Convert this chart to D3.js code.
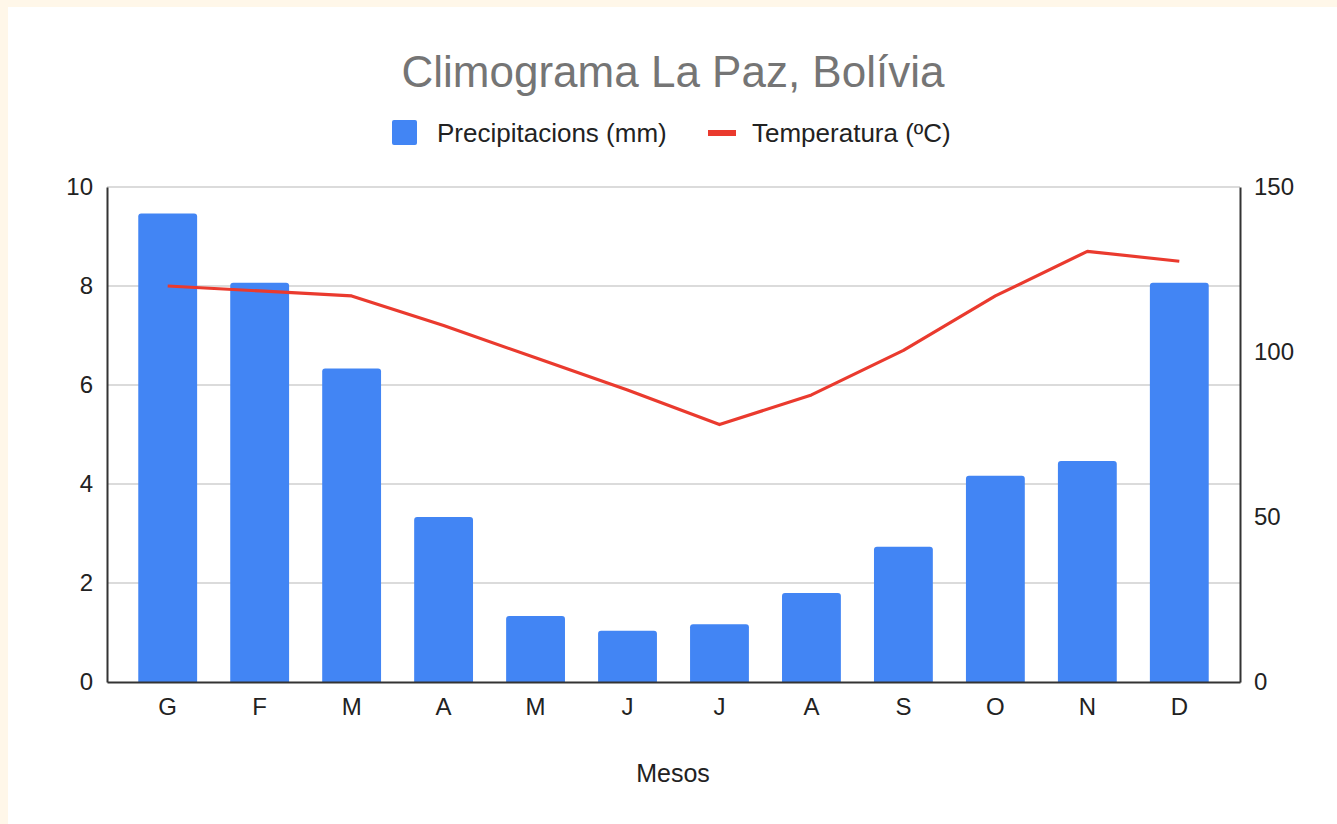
<!DOCTYPE html>
<html>
<head>
<meta charset="utf-8">
<script src="https://cdn.jsdelivr.net/npm/d3@7"></script>
<style>
  body { margin: 0; background: #fff7e9; }
  svg { display: block; }
  text { font-family: "Liberation Sans", Arial, sans-serif; }
</style>
</head>
<body>
<div id="chart"></div>
<script>
// monthly data, La Paz
var months = ["G", "F", "M", "A", "M", "J", "J", "A", "S", "O", "N", "D"];
var precipitacions = [142, 121, 95, 50, 20, 15.5, 17.5, 27, 41, 62.5, 67, 121]; // mm, right axis
var temperatura = [8.0, 7.9, 7.8, 7.2, 6.55, 5.9, 5.2, 5.8, 6.7, 7.8, 8.7, 8.5]; // ºC, left axis
var leftTicks = [0, 2, 4, 6, 8, 10];
var rightTicks = [0, 50, 100, 150];

var width = 1337, height = 824;
var margin = {top: 187, right: 97, bottom: 142, left: 107};
var innerW = width - margin.left - margin.right,
    innerH = height - margin.top - margin.bottom;

var svg = d3.select("#chart").append("svg")
    .attr("width", width)
    .attr("height", height);

// white panel over the cream page
svg.append("rect")
    .attr("x", 8).attr("y", 7)
    .attr("width", width - 8).attr("height", height - 7)
    .attr("fill", "#ffffff");

var g = svg.append("g")
    .attr("transform", "translate(" + margin.left + "," + margin.top + ")");

var x = d3.scaleBand()
    .domain(d3.range(months.length))
    .range([0, innerW])
    .paddingInner(0.36)
    .paddingOuter(0.34);

var yLeft = d3.scaleLinear().domain([0, 10]).range([innerH, 0]);
var yRight = d3.scaleLinear().domain([0, 150]).range([innerH, 0]);

// gridlines
g.selectAll(".grid")
    .data(leftTicks.filter(function(d) { return d > 0; }))
    .enter().append("line")
    .attr("class", "grid")
    .attr("x1", 0).attr("x2", innerW)
    .attr("y1", function(d) { return yLeft(d); })
    .attr("y2", function(d) { return yLeft(d); })
    .attr("stroke", "#cfcfcf")
    .attr("stroke-width", 1.6);

// bars with rounded tops
var r = 3;
g.selectAll(".bar")
    .data(precipitacions)
    .enter().append("path")
    .attr("class", "bar")
    .attr("fill", "#4285f4")
    .attr("d", function(d, i) {
        var x0 = x(i), w = x.bandwidth(), y0 = yRight(d), yb = innerH;
        return "M" + x0 + "," + yb +
            "V" + (y0 + r) +
            "Q" + x0 + "," + y0 + " " + (x0 + r) + "," + y0 +
            "H" + (x0 + w - r) +
            "Q" + (x0 + w) + "," + y0 + " " + (x0 + w) + "," + (y0 + r) +
            "V" + yb + "Z";
    });

// temperature line
var line = d3.line()
    .x(function(d, i) { return x(i) + x.bandwidth() / 2; })
    .y(function(d) { return yLeft(d); });

g.append("path")
    .datum(temperatura)
    .attr("fill", "none")
    .attr("stroke", "#ea3a2e")
    .attr("stroke-width", 3.2)
    .attr("stroke-linejoin", "round")
    .attr("d", line);

// axes
var axisL = g.append("g")
    .call(d3.axisLeft(yLeft).tickValues(leftTicks).tickSize(0).tickPadding(14));
var axisR = g.append("g")
    .attr("transform", "translate(" + innerW + ",0)")
    .call(d3.axisRight(yRight).tickValues(rightTicks).tickSize(0).tickPadding(14));
var axisB = g.append("g")
    .attr("transform", "translate(0," + innerH + ")")
    .call(d3.axisBottom(x).tickFormat(function(i) { return months[i]; }).tickSize(0).tickPadding(16));

[axisL, axisR, axisB].forEach(function(a) {
    a.select(".domain").attr("stroke", "#333").attr("stroke-width", 2);
    a.selectAll("text")
        .attr("fill", "#222")
        .style("font-size", "24px")
        .style("font-family", "'Liberation Sans', Arial, sans-serif");
});

// title
svg.append("text")
    .attr("x", 673).attr("y", 87)
    .attr("text-anchor", "middle")
    .attr("fill", "#757575")
    .style("font-size", "44px")
    .text("Climograma La Paz, Bolívia");

// legend
var legend = svg.append("g");
legend.append("rect")
    .attr("x", 392).attr("y", 120)
    .attr("width", 25).attr("height", 25)
    .attr("rx", 2)
    .attr("fill", "#4285f4");
legend.append("text")
    .attr("x", 437).attr("y", 142)
    .attr("fill", "#222")
    .style("font-size", "26px")
    .text("Precipitacions (mm)");
legend.append("rect")
    .attr("x", 708).attr("y", 130)
    .attr("width", 28).attr("height", 6)
    .attr("fill", "#ea3a2e");
legend.append("text")
    .attr("x", 752).attr("y", 142)
    .attr("fill", "#222")
    .style("font-size", "26px")
    .text("Temperatura (ºC)");

// x axis title
svg.append("text")
    .attr("x", 673).attr("y", 782)
    .attr("text-anchor", "middle")
    .attr("fill", "#222")
    .style("font-size", "25px")
    .text("Mesos");
</script>
</body>
</html>
